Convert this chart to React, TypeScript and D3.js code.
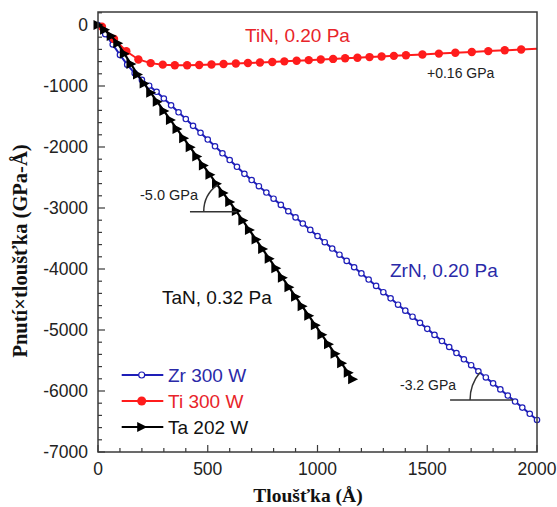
import React from "react";
import * as d3 from "d3";

// ---- data ----
const zrThickness = [0, 33, 67, 100, 133, 167, 200, 233, 267, 300, 333, 367, 400, 433, 467, 500, 533, 567, 600, 633, 667, 700, 733, 767, 800, 833, 867, 900, 933, 967, 1000, 1033, 1067, 1100, 1133, 1167, 1200, 1233, 1267, 1300, 1333, 1367, 1400, 1433, 1467, 1500, 1533, 1567, 1600, 1633, 1667, 1700, 1733, 1767, 1800, 1833, 1867, 1900, 1933, 1967, 2000];
const zrStress = [0, -150, -320, -490, -650, -790, -900, -995, -1095, -1205, -1317, -1431, -1542, -1653, -1767, -1878, -1989, -2103, -2214, -2325, -2440, -2542, -2643, -2747, -2848, -2949, -3053, -3154, -3255, -3359, -3460, -3561, -3665, -3766, -3867, -3971, -4072, -4173, -4277, -4380, -4481, -4585, -4683, -4782, -4883, -4981, -5080, -5181, -5279, -5378, -5480, -5577, -5676, -5778, -5875, -5974, -6075, -6173, -6272, -6374, -6475];

const tiThickness = [18, 73, 129, 184, 240, 295, 350, 406, 461, 517, 572, 628, 683, 738, 794, 849, 905, 960, 1015, 1071, 1126, 1182, 1237, 1292, 1348, 1403, 1478, 1553, 1628, 1703, 1778, 1853, 1928, 2000];
const tiStress = [-30, -230, -430, -565, -625, -650, -660, -660, -655, -648, -640, -632, -624, -615, -606, -596, -586, -576, -566, -556, -546, -536, -526, -516, -506, -496, -483, -469, -455, -442, -428, -415, -401, -388];

const taThickness = [0, 30, 60, 90, 120, 150, 180, 210, 240, 270, 300, 330, 360, 390, 420, 450, 480, 510, 540, 570, 600, 630, 660, 690, 720, 750, 780, 810, 840, 870, 900, 930, 960, 990, 1020, 1050, 1080, 1110, 1140, 1160];
const taStress = [0, -80, -180, -300, -470, -640, -810, -960, -1109, -1258, -1408, -1557, -1707, -1856, -2006, -2155, -2305, -2454, -2603, -2753, -2902, -3050, -3206, -3362, -3518, -3674, -3830, -3986, -4142, -4298, -4454, -4610, -4766, -4922, -5078, -5234, -5390, -5546, -5702, -5806];

const xTickValues = [0, 500, 1000, 1500, 2000];
const yTickValues = [0, -1000, -2000, -3000, -4000, -5000, -6000, -7000];
const legendLabels = ["Zr 300 W", "Ti 300 W", "Ta 202 W"];
const seriesLabels = ["ZrN, 0.20 Pa", "TiN, 0.20 Pa", "TaN, 0.32 Pa"];
const slopeLabels = ["-3.2 GPa", "+0.16 GPa", "-5.0 GPa"];

const W = 557, H = 507;
const BLUE = "#1e1eb8";
const BLUE_TXT = "#2a2aa8";
const RED = "#ff1c1c";
const RED_TXT = "#e8242a";
const FRAME = "#3a3a3a";
const SANS = "'Liberation Sans', Arial, Helvetica, sans-serif";
const SERIF = "'Liberation Serif', 'Times New Roman', serif";

const x = d3.scaleLinear().domain([0, 2000]).range([98, 537]);
const y = d3.scaleLinear().domain([-7000, 213]).range([452, 12]);

type Pt = [number, number];
const zip = (a: number[], b: number[]): Pt[] => a.map((v, i) => [v, b[i]]);
const zrPts = zip(zrThickness, zrStress);
const tiPts = zip(tiThickness, tiStress);
const taPts = zip(taThickness, taStress);

const line = d3.line<Pt>().x(d => x(d[0])).y(d => y(d[1]));

const TRI = "M-4.5,-5L5.5,0L-4.5,5Z";

// Angle annotation: horizontal from xStart to where the series crosses level, with arc
function angleMark(pts: Pt[], level: number, xStart: number, r: number) {
  let cx = 0, ang = Math.PI;
  for (let i = 1; i < pts.length; i++) {
    const [x0, y0] = pts[i - 1], [x1, y1] = pts[i];
    if ((y0 - level) * (y1 - level) <= 0 && y0 !== y1) {
      const t = (level - y0) / (y1 - y0);
      cx = x0 + t * (x1 - x0);
      const vx = x(x0) - x(x1), vy = y(y0) - y(y1);
      ang = Math.atan2(vy, vx);
      break;
    }
  }
  const px = x(cx), py = y(level);
  const sx = px - r, sy = py;
  const ex = px + r * Math.cos(ang), ey = py + r * Math.sin(ang);
  return {
    hline: { x1: x(xStart), x2: px, y: py },
    arc: `M${sx},${sy}A${r},${r} 0 0 1 ${ex},${ey}`,
  };
}

export default function App() {
  const xMinor = d3.range(0, 2001, 100);
  const yMinor = d3.range(-7000, 201, 200);
  const taMark = angleMark(taPts, -3060, 419, 33);
  const zrMark = angleMark(zrPts, -6146, 1604, 43);
  const x0 = x.range()[0], x1 = x.range()[1];
  const y0 = y.range()[1], y1 = y.range()[0];

  return (
    <svg width={W} height={H} style={{ position: "absolute", left: 0, top: 0, background: "#fff" }}>
      {/* ticks */}
      {xMinor.map(v => (
        <line key={"xt" + v} x1={x(v)} x2={x(v)} y1={y1} y2={y1 - (v % 500 === 0 ? 7 : 4)} stroke={FRAME} strokeWidth={1.2} />
      ))}
      {yMinor.map(v => (
        <line key={"yt" + v} x1={x0} x2={x0 + (v % 1000 === 0 ? 7 : 4)} y1={y(v)} y2={y(v)} stroke={FRAME} strokeWidth={1.2} />
      ))}
      {/* tick labels */}
      {xTickValues.map(v => (
        <text key={"xl" + v} x={x(v)} y={475} textAnchor="middle" fontFamily={SANS} fontSize={17.5} fill="#222">{v}</text>
      ))}
      {yTickValues.map(v => (
        <text key={"yl" + v} x={88} y={y(v) + 6} textAnchor="end" fontFamily={SANS} fontSize={17.5} fill="#222">{v}</text>
      ))}
      {/* axis titles */}
      <text x={308} y={502} textAnchor="middle" fontFamily={SERIF} fontWeight="bold" fontSize={19.5} fill="#111">Tloušťka (Å)</text>
      <text transform={`translate(27,251) rotate(-90)`} textAnchor="middle" fontFamily={SERIF} fontWeight="bold" fontSize={20.5} fill="#111">Pnutí×tloušťka (GPa-Å)</text>

      {/* series */}
      <path d={line(zrPts) || ""} fill="none" stroke={BLUE} strokeWidth={2} />
      {zrPts.map((p, i) => (
        <circle key={"zr" + i} cx={x(p[0])} cy={y(p[1])} r={2.7} fill="#fff" stroke={BLUE} strokeWidth={1.2} />
      ))}
      <path d={line(tiPts) || ""} fill="none" stroke={RED} strokeWidth={2} />
      {tiPts.filter(p => p[0] < 2000).map((p, i) => (
        <circle key={"ti" + i} cx={x(p[0])} cy={y(p[1])} r={4.2} fill={RED} />
      ))}
      <path d={line(taPts) || ""} fill="none" stroke="#000" strokeWidth={2.2} />
      {taPts.map((p, i) => (
        <path key={"ta" + i} d={TRI} transform={`translate(${x(p[0])},${y(p[1])})`} fill="#000" />
      ))}

      {/* frame */}
      <rect x={x0} y={y0} width={x1 - x0} height={y1 - y0} fill="none" stroke={FRAME} strokeWidth={1.5} />

      {/* angle annotations */}
      <line x1={taMark.hline.x1} x2={taMark.hline.x2} y1={taMark.hline.y} y2={taMark.hline.y} stroke="#333" strokeWidth={1.5} />
      <path d={taMark.arc} fill="none" stroke="#333" strokeWidth={1.5} />
      <line x1={zrMark.hline.x1} x2={zrMark.hline.x2} y1={zrMark.hline.y} y2={zrMark.hline.y} stroke="#333" strokeWidth={1.5} />
      <path d={zrMark.arc} fill="none" stroke="#333" strokeWidth={1.5} />

      {/* slope labels */}
      <text x={400} y={390} fontFamily={SANS} fontSize={14} fill="#222">{slopeLabels[0]}</text>
      <text x={427} y={78} fontFamily={SANS} fontSize={14} fill="#222">{slopeLabels[1]}</text>
      <text x={140} y={200} fontFamily={SANS} fontSize={14.5} fill="#222">{slopeLabels[2]}</text>

      {/* series labels */}
      <text x={390} y={277} fontFamily={SANS} fontSize={19} fill={BLUE_TXT}>{seriesLabels[0]}</text>
      <text x={245} y={42} fontFamily={SANS} fontSize={19} fill={RED_TXT}>{seriesLabels[1]}</text>
      <text x={162} y={304} fontFamily={SANS} fontSize={19} fill="#111">{seriesLabels[2]}</text>

      {/* legend */}
      <g fontFamily={SANS} fontSize={19}>
        <line x1={121.7} x2={163.3} y1={375} y2={375} stroke={BLUE} strokeWidth={2} />
        <circle cx={141.7} cy={375} r={3} fill="#fff" stroke={BLUE} strokeWidth={1.2} />
        <text x={168} y={382} fill={BLUE_TXT}>{legendLabels[0]}</text>
        <line x1={121.7} x2={163.3} y1={401} y2={401} stroke={RED} strokeWidth={2} />
        <circle cx={141.7} cy={401} r={4.5} fill={RED} />
        <text x={168} y={408} fill={RED_TXT}>{legendLabels[1]}</text>
        <line x1={121.7} x2={163.3} y1={427} y2={427} stroke="#000" strokeWidth={2} />
        <path d={TRI} transform="translate(141.7,427)" fill="#000" />
        <text x={168} y={434} fill="#111">{legendLabels[2]}</text>
      </g>
    </svg>
  );
}
